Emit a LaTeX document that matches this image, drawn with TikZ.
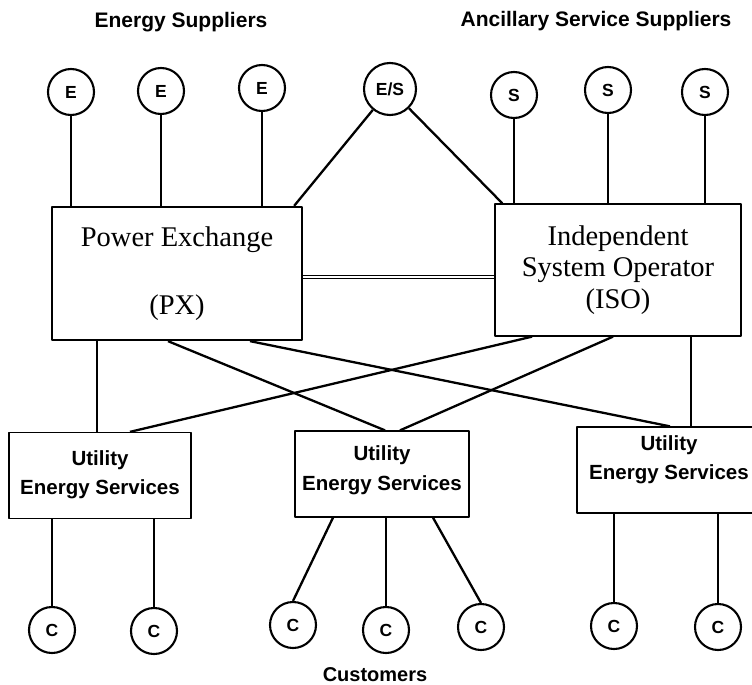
\documentclass[tikz,border=0pt]{standalone}
\usepackage{fontspec}
\setmainfont{Liberation Serif}
\newfontfamily\labelfont{Liberation Sans}

\newcommand{\uestext}[1]{\begin{tabular}{@{}c@{}}Utility\\Energy Services\\[#1]\end{tabular}}

\tikzset{
  supplier/.style={circle, draw, line width=2.1pt, minimum size=46pt, inner sep=0pt,
    font=\labelfont\bfseries\fontsize{17.5}{19}\selectfont},
  customer/.style={supplier},
  grouplabel/.style={inner sep=0pt, font=\labelfont\bfseries\fontsize{21}{24}\selectfont},
  mainbox/.style={draw, align=center, inner sep=0pt, font=\fontsize{28.5}{31.5}\selectfont},
  uesbox/.style={draw, line width=1.3pt, inner sep=0pt, minimum height=86pt,
    font=\labelfont\bfseries\fontsize{20.5}{29.5}\selectfont},
  link/.style={line width=2.3pt}
}

\begin{document}
\begin{tikzpicture}[x=1pt, y=-1pt, line join=round]

  \useasboundingbox (0,0) rectangle (752,685);

  % Group labels
  \node[grouplabel] (lblEnergy) at (181,22) {Energy Suppliers};
  \node[grouplabel] (lblAncillary) at (596,21) {Ancillary Service Suppliers};
  \node[grouplabel, font=\labelfont\bfseries\fontsize{20}{24}\selectfont]
        (lblCustomers) at (375,675) {Customers};

  % Suppliers
  \node[supplier] (e1) at (71,92) {E};
  \node[supplier] (e2) at (161,91) {E};
  \node[supplier] (e3) at (262,88) {E};
  \node[supplier, minimum size=52pt] (es) at (390,89) {E/S};
  \node[supplier] (s1) at (514,95) {S};
  \node[supplier] (s2) at (608,90) {S};
  \node[supplier] (s3) at (705,92) {S};

  % Market operators
  \node[mainbox, line width=2.3pt, minimum width=250pt, minimum height=133pt,
        font=\fontsize{28.5}{34}\selectfont]
        (px) at (177,273.5) {Power Exchange\\[34pt](PX)};

  \node[mainbox, line width=1.3pt, minimum width=246pt, minimum height=132pt]
        (iso) at (618,270) {Independent\\System Operator\\(ISO)};

  % Utilities
  \node[uesbox, minimum width=182pt] (ues1) at (100,475.5) {\uestext{3pt}};
  \node[uesbox, minimum width=174pt] (ues2) at (382,474) {\uestext{9pt}};
  \node[uesbox, minimum width=184pt] (ues3) at (669,470) {\uestext{22pt}};

  % Customers
  \node[customer] (c1) at (52,630) {C};
  \node[customer] (c2) at (154,631) {C};
  \node[customer] (c3) at (293,625) {C};
  \node[customer] (c4) at (386,630) {C};
  \node[customer] (c5) at (481,627) {C};
  \node[customer] (c6) at (614,626) {C};
  \node[customer] (c7) at (718,627) {C};

  % Suppliers to PX and ISO
  \draw[link] (e1) -- (e1 |- px.north);
  \draw[link] (e2) -- (e2 |- px.north);
  \draw[link] (e3) -- (e3 |- px.north);
  \draw[link] (es) -- ([xshift=-9pt]px.north east);
  \draw[link] (es) -- ([xshift=8pt]iso.north west);
  \draw[link] (s1) -- (s1 |- iso.north);
  \draw[link] (s2) -- (s2 |- iso.north);
  \draw[link] (s3) -- (s3 |- iso.north);

  % PX -- ISO
  \coordinate (pxport) at ([yshift=-3.5pt]px.east);
  \draw[line width=1.2pt, double, double distance=1.6pt]
        (pxport) -- (pxport -| iso.west);

  % PX and ISO to utilities
  \draw[link] (px.south -| 97,0) -- (ues1.north -| 97,0);
  \draw[link] (px.south -| 168,0) -- (ues2.north -| 385,0);
  \draw[link] (px.south -| 250,0) -- (ues3.north -| 670,0);
  \draw[link] (iso.south -| 532,0) -- (ues1.north -| 130,0);
  \draw[link] (iso.south -| 613,0) -- (ues2.north -| 400,0);
  \draw[link] (iso.south -| 691,0) -- (ues3.north -| 691,0);

  % Utilities to customers
  \draw[link] (c1) -- (c1 |- ues1.south);
  \draw[link] (c2) -- (c2 |- ues1.south);
  \draw[link] (ues2.south -| 333,0) -- (c3.north);
  \draw[link] (c4) -- (c4 |- ues2.south);
  \draw[link] (ues2.south -| 433,0) -- (c5.north);
  \draw[link] (c6) -- (c6 |- ues3.south);
  \draw[link] (c7) -- (c7 |- ues3.south);

\end{tikzpicture}
\end{document}
